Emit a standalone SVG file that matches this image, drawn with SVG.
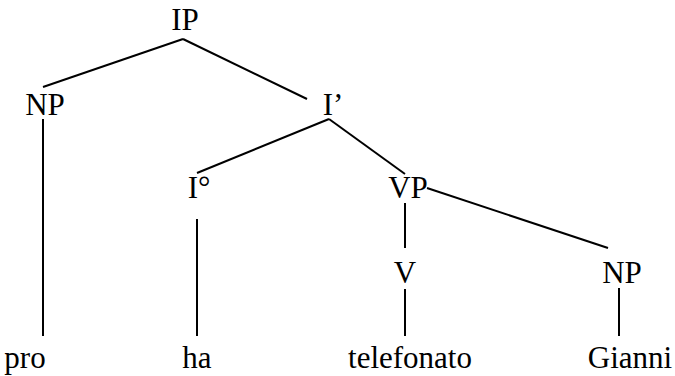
<svg xmlns="http://www.w3.org/2000/svg" width="675" height="376" viewBox="0 0 675 376">
<style>
text{font-family:"Liberation Serif","Times New Roman",serif;font-size:31px;fill:#000;text-anchor:middle}
line{stroke:#000;stroke-width:2}
</style>
<rect width="675" height="376" fill="#fff"/>
<g id="connectors">
<line x1="183" y1="39" x2="43" y2="87"/>
<line x1="183" y1="39" x2="307" y2="99"/>
<line x1="43" y1="119" x2="43" y2="336"/>
<line x1="329" y1="119" x2="197" y2="173"/>
<line x1="329" y1="119" x2="405" y2="174"/>
<line x1="427" y1="188" x2="608" y2="248"/>
<line x1="405" y1="203" x2="405" y2="248"/>
<line x1="405" y1="289" x2="405" y2="336"/>
<line x1="197" y1="219" x2="197" y2="336"/>
<line x1="619" y1="288" x2="619" y2="336"/>
</g>
<g id="IP"><text x="185" y="30">IP</text></g>
<g id="NP1"><text x="45" y="115">NP</text></g>
<g id="Ibar"><text x="333" y="115">I’</text></g>
<g id="I0"><text x="199" y="198">I°</text></g>
<g id="VP"><text x="408" y="198">VP</text></g>
<g id="V"><text x="405" y="283">V</text></g>
<g id="NP2"><text x="622" y="283">NP</text></g>
<g id="pro"><text x="25" y="368">pro</text></g>
<g id="ha"><text x="197" y="368">ha</text></g>
<g id="telefonato"><text x="410" y="368">telefonato</text></g>
<g id="Gianni"><text x="630" y="368">Gianni</text></g>
</svg>
